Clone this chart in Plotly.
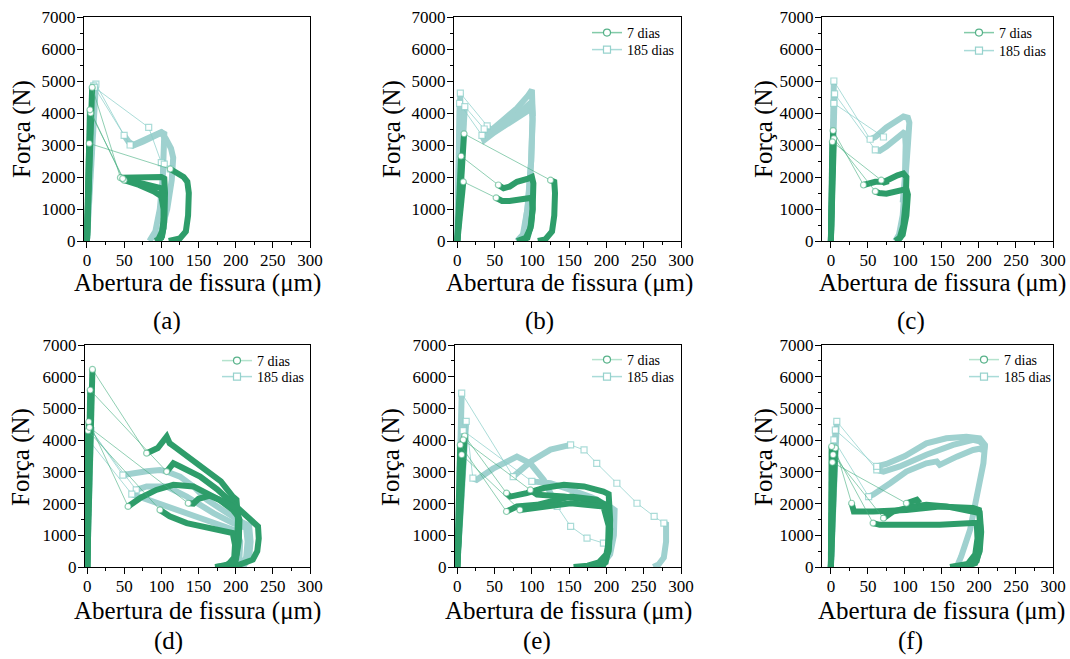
import plotly.graph_objects as go

# ---------------- data (crack opening in µm, force in N) ----------------
# each specimen: index 0 = origin, index 1 = peak, index 2.. = post-peak curve
A7_X = [[0, 7, 45, 60, 80, 100, 104, 105, 104, 101, 95],
        [0, 5, 50, 70, 90, 100, 103, 103, 100, 92],
        [0, 4, 48, 65, 85, 100, 104, 104, 101, 96],
        [0, 3, 112, 120, 130, 135, 137, 136, 133, 125, 110]]
A7_Y = [[0, 4800, 1980, 1990, 1990, 2000, 1950, 1500, 800, 300, 0],
        [0, 4000, 1900, 1750, 1550, 1400, 1000, 400, 100, 0],
        [0, 4100, 1950, 1850, 1700, 1650, 1300, 600, 150, 0],
        [0, 3050, 2250, 2150, 2000, 1850, 1500, 800, 300, 80, 0]]
A185_X = [[0, 12, 50, 56, 62, 75, 90, 100, 104, 104, 102, 98, 92, 84],
          [0, 9, 58, 62, 75, 90, 100, 106, 113, 116, 114, 108, 100, 92]]
A185_Y = [[0, 4900, 3300, 3100, 3000, 3150, 3300, 3400, 3350, 2800, 2000, 1000, 300, 0],
          [0, 4850, 3000, 2980, 3100, 3250, 3380, 3200, 2900, 2600, 1900, 1000, 300, 0]]
A185_THIN_X = [[10, 83, 100, 104, 112]]
A185_THIN_Y = [[4800, 3550, 2450, 2400, 2250]]

B7_X = [[0, 9, 125, 130, 131, 130, 127, 118, 108],
        [0, 5, 55, 62, 70, 80, 95, 100, 102, 101, 98, 92, 80],
        [0, 8, 52, 60, 70, 90, 100, 101, 99, 94, 85]]
B7_Y = [[0, 3350, 1900, 1850, 1500, 800, 300, 50, 0],
        [0, 2650, 1750, 1650, 1700, 1850, 1950, 2000, 1800, 1000, 400, 100, 0],
        [0, 1850, 1350, 1250, 1250, 1300, 1350, 1000, 500, 100, 0]]
B185_X = [[0, 4, 40, 45, 60, 80, 95, 100, 101, 99, 95, 90, 85],
          [0, 3, 33, 36, 50, 70, 90, 100, 101, 99, 94, 88, 80],
          [0, 10, 36, 40, 60, 80, 100, 101]]
B185_Y = [[0, 4620, 3600, 3450, 3750, 4150, 4550, 4720, 4000, 2500, 1200, 300, 0],
          [0, 4300, 3300, 3150, 3400, 3700, 4000, 4150, 3800, 2500, 1000, 200, 0],
          [0, 4200, 3500, 3400, 3650, 3950, 4350, 3900]]

C7_X = [[0, 3, 44, 50, 60, 72, 80, 90, 98, 102, 101, 98, 93, 87],
        [0, 4, 60, 65, 75, 85, 95, 102, 104, 102, 97, 90],
        [0, 2, 68, 72, 78]]
C7_Y = [[0, 3450, 1750, 1800, 1850, 1850, 1950, 2050, 2110, 2000, 1200, 500, 100, 0],
        [0, 3200, 1550, 1500, 1480, 1520, 1580, 1620, 1450, 800, 200, 0],
        [0, 3100, 1900, 1830, 1870]]
C185_X = [[0, 4, 53, 60, 75, 90, 98, 104, 106, 104, 101, 97, 92, 87],
          [0, 5, 60, 66, 75, 90, 100, 101, 100, 97]]
C185_Y = [[0, 5000, 3180, 3250, 3550, 3800, 3890, 3850, 3700, 3000, 1800, 800, 200, 0],
          [0, 4600, 2850, 2820, 2950, 3250, 3420, 3000, 2000, 1200]]
C185_THIN_X = [[4, 71]]
C185_THIN_Y = [[4300, 3250]]

D7_X = [[0, 7, 80, 95, 107, 111, 120, 140, 160, 180, 196, 201, 203, 202, 198, 185, 172],
        [0, 4, 107, 116, 125, 152, 175, 196, 214, 230, 231, 229, 223, 205, 183],
        [0, 2, 55, 71, 93, 116, 143, 161, 178, 196, 203, 204, 201, 192],
        [0, 1, 98, 111, 134, 161, 187, 196, 199, 198, 190, 174],
        [0, 3, 136, 143, 150, 165, 185, 200, 205, 204, 200, 188]]
D7_Y = [[0, 6230, 3590, 3750, 4110, 3900, 3750, 3400, 3050, 2700, 2220, 2120, 1500, 800, 200, 30, 0],
        [0, 5580, 3010, 3270, 3170, 2850, 2450, 2010, 1595, 1280, 900, 500, 230, 73, 0],
        [0, 4580, 1910, 2170, 2430, 2590, 2540, 2330, 2120, 1800, 1600, 1000, 400, 0],
        [0, 4300, 1800, 1600, 1385, 1230, 1120, 1070, 700, 300, 80, 0],
        [0, 4400, 2010, 2000, 2150, 2250, 2050, 1850, 1500, 800, 200, 0]]
D185_X = [[0, 3, 48, 62, 80, 98, 107, 125, 143, 161, 187, 205, 218, 220, 218, 212, 205],
          [0, 5, 66, 80, 107, 134, 170, 196, 214, 216, 214, 207, 196],
          [0, 2, 60, 90, 120, 160, 200, 206, 205, 200]]
D185_Y = [[0, 4400, 2900, 2960, 3020, 3060, 3010, 2850, 2540, 2120, 1700, 1450, 1300, 800, 300, 80, 0],
          [0, 4300, 2430, 2540, 2540, 2220, 1700, 1385, 1230, 800, 300, 60, 0],
          [0, 4000, 2300, 2050, 1800, 1450, 1150, 800, 300, 0]]

E7_X = [[0, 10, 66, 71, 93, 116, 143, 170, 196, 203, 205, 204, 200, 190, 175, 156],
        [0, 8, 98, 107, 143, 174, 201, 204, 203, 199, 187],
        [0, 4, 66, 80, 107, 152, 187, 201, 205, 203, 196, 180],
        [0, 6, 84, 116, 152, 196, 203, 202, 195]]
E7_Y = [[0, 4130, 2330, 2220, 2330, 2490, 2590, 2540, 2380, 2300, 1500, 900, 400, 150, 40, 0],
        [0, 4010, 2430, 2280, 2220, 2120, 1960, 1300, 600, 150, 0],
        [0, 3850, 1750, 1910, 1960, 2220, 2120, 1910, 1200, 500, 100, 0],
        [0, 3540, 1800, 1910, 2010, 1910, 1300, 500, 0]]
E185_X = [[0, 6, 75, 80, 100, 125, 152],
          [0, 12, 21, 26, 48, 80, 98, 116, 134],
          [0, 8, 100, 125, 150, 180, 205, 211, 210, 205, 195, 180]]
E185_Y = [[0, 5480, 2850, 2950, 3350, 3700, 3850],
          [0, 4590, 2800, 2750, 3100, 3480, 3270, 2750, 1910],
          [0, 4300, 2700, 2640, 2450, 2200, 1900, 1800, 1000, 400, 100, 0]]
E185_THIN_X = [[152, 170, 187, 214, 241, 264, 277], [134, 152, 174, 196]]
E185_THIN_Y = [[3850, 3690, 3270, 2640, 2010, 1595, 1385], [1910, 1280, 913, 755]]
E185_EXTRA_X = [[277, 280, 280, 277, 270, 263]]
E185_EXTRA_Y = [[1385, 1350, 800, 300, 80, 0]]

F7_X = [[0, 6, 28, 31, 57, 102, 147, 192, 200, 202, 201, 197, 185, 165],
        [0, 1, 57, 66, 102, 147, 192, 197, 198, 195, 185, 161],
        [0, 3, 71, 84, 111, 129, 156, 192, 201, 203, 201, 195, 180],
        [0, 2, 102, 110, 116, 120]]
F7_Y = [[0, 3750, 2010, 1750, 1750, 1800, 1910, 1860, 1800, 1200, 600, 200, 50, 0],
        [0, 3800, 1385, 1330, 1330, 1330, 1385, 1385, 900, 400, 100, 0],
        [0, 3540, 1540, 1750, 1910, 1960, 1910, 1750, 1700, 1100, 500, 120, 0],
        [0, 3300, 2010, 2060, 2120, 2010]]
F185_X = [[0, 8, 62, 71, 93, 129, 165, 192, 201, 208, 206, 197, 188, 176, 170],
          [0, 6, 62, 75, 100, 129, 156, 183, 201, 208, 207],
          [0, 4, 51, 57, 80, 102, 129, 143, 147, 156, 170, 192, 206, 205]]
F185_Y = [[0, 4590, 3060, 3010, 3170, 3540, 3850, 4010, 3960, 3800, 3270, 2220, 1175, 336, 0],
          [0, 4320, 3170, 3250, 3500, 3900, 4060, 4110, 4060, 3850, 3700],
          [0, 4010, 2220, 2280, 2640, 3010, 3270, 3330, 3220, 3330, 3480, 3690, 3750, 3600]]

PANEL_LABELS = ["(a)", "(b)", "(c)", "(d)", "(e)", "(f)"]
LEGEND_NAMES = ["7 dias", "185 dias"]
X_TITLE = "Abertura de fissura (\u03bcm)"
Y_TITLE = "For\u00e7a (N)"
X_TICKS = [0, 50, 100, 150, 200, 250, 300]
Y_TICKS = [0, 1000, 2000, 3000, 4000, 5000, 6000, 7000]

# ---------------- styling ----------------
GREEN = "#2e9d6a"
TEAL = "#9fd1cf"
GREEN_THIN = "rgba(70,175,128,0.6)"
TEAL_THIN = "rgba(135,205,200,0.7)"
FONT = "Times New Roman, Liberation Serif, DejaVu Serif, serif"

FW, FH = 1070, 659


def PX(px):
    return px / FW


def PY(py):
    return 1 - py / FH


# plot boxes in window pixels: (left, right, top, bottom, xmin)
BOXES = [(84, 310, 17, 241, -4), (454, 681, 17, 241, -4.5), (822, 1053, 17, 241, -12),
         (85, 310, 345, 567, -3), (455, 681, 345, 567, -3), (822, 1053, 345, 567, -12)]
XT_CENTER = [197, 569, 942, 197, 568, 941]
CAP_CENTER = [167, 539, 911, 168, 537, 910]
CAP_Y = [321, 321, 321, 641, 641, 641]
YT_CENTER = [22, 392, 764, 21, 391, 764]
LEG_TEXT_X = [None, 628, 1000, 258, 628, 1005]
LEG_ITEM_Y = [None, (33, 50), (33, 51), (361, 377), (360, 377), (360, 377)]

panels = [
    dict(g=(A7_X, A7_Y, [], [], [], []), t=(A185_X, A185_Y, A185_THIN_X, A185_THIN_Y, [], [])),
    dict(g=(B7_X, B7_Y, [], [], [], []), t=(B185_X, B185_Y, [], [], [], [])),
    dict(g=(C7_X, C7_Y, [], [], [], []), t=(C185_X, C185_Y, C185_THIN_X, C185_THIN_Y, [], [])),
    dict(g=(D7_X, D7_Y, [], [], [], []), t=(D185_X, D185_Y, [], [], [], [])),
    dict(g=(E7_X, E7_Y, [], [], [], []), t=(E185_X, E185_Y, E185_THIN_X, E185_THIN_Y, E185_EXTRA_X, E185_EXTRA_Y)),
    dict(g=(F7_X, F7_Y, [], [], [], []), t=(F185_X, F185_Y, [], [], [], [])),
]

fig = go.Figure()


def add_group(i, data, color, thin_color, symbol):
    xs, ys, tx, ty, ex, ey = data
    kx, ky, cx, cy = [], [], [], []
    for X, Y in zip(xs, ys):
        kx += X[0:2] + [None] + X[2:] + [None]
        ky += Y[0:2] + [None] + Y[2:] + [None]
        cx += X[1:3] + [None]
        cy += Y[1:3] + [None]
    for X, Y in zip(ex, ey):
        kx += X + [None]
        ky += Y + [None]
    for X, Y in zip(tx, ty):
        cx += X + [None]
        cy += Y + [None]
    xa = "x" if i == 0 else f"x{i+1}"
    ya = "y" if i == 0 else f"y{i+1}"
    fig.add_trace(go.Scatter(x=kx, y=ky, mode="lines", xaxis=xa, yaxis=ya,
                             line=dict(color=color, width=6), showlegend=False,
                             hoverinfo="skip"))
    fig.add_trace(go.Scatter(x=cx, y=cy, mode="lines+markers", xaxis=xa, yaxis=ya,
                             line=dict(color=thin_color, width=1),
                             marker=dict(symbol=symbol, size=6, color="white",
                                         line=dict(color=thin_color, width=1.2)),
                             showlegend=False, hoverinfo="skip"))


layout = dict(width=FW, height=FH, margin=dict(l=0, r=0, t=0, b=0, autoexpand=False),
              paper_bgcolor="white", plot_bgcolor="white", showlegend=True,
              font=dict(family=FONT, color="black"), annotations=[])

leg_idx = 2
for i, p in enumerate(panels):
    add_group(i, p["t"], TEAL, TEAL_THIN, "square")
    add_group(i, p["g"], GREEN, GREEN_THIN, "circle")
    left, right, top, bottom, xmin = BOXES[i]
    sfx = "" if i == 0 else str(i + 1)
    axis_common = dict(showline=True, linecolor="black", linewidth=1.3, mirror=True,
                       ticks="outside", ticklen=6, tickwidth=1.2, tickcolor="black",
                       showgrid=False, zeroline=False, automargin=False,
                       ticklabeloverflow="allow",
                       tickfont=dict(family=FONT, size=17, color="black"))
    layout["xaxis" + sfx] = dict(axis_common, domain=[PX(left), PX(right)],
                                 anchor="y" + sfx, range=[xmin, 300],
                                 tickvals=X_TICKS, ticklabelstandoff=-3,
                                 minor=dict(ticks="outside", ticklen=3, tickwidth=1,
                                            dtick=25, tick0=0, tickcolor="black"))
    layout["yaxis" + sfx] = dict(axis_common, domain=[PY(bottom), PY(top)],
                                 anchor="x" + sfx, range=[0, 7000],
                                 tickvals=Y_TICKS, ticklabelstandoff=-2,
                                 minor=dict(ticks="outside", ticklen=3, tickwidth=1,
                                            dtick=500, tick0=0, tickcolor="black"))
    row_off = 0 if i < 3 else 328
    layout["annotations"].append(dict(text=X_TITLE, xref="paper", yref="paper",
                                      x=PX(XT_CENTER[i]), y=PY(283 + row_off), showarrow=False,
                                      font=dict(family=FONT, size=25, color="black"),
                                      xanchor="center", yanchor="middle"))
    layout["annotations"].append(dict(text=PANEL_LABELS[i], xref="paper", yref="paper",
                                      x=PX(CAP_CENTER[i]), y=PY(CAP_Y[i]), showarrow=False,
                                      font=dict(family=FONT, size=25, color="black"),
                                      xanchor="center", yanchor="middle"))
    layout["annotations"].append(dict(text=Y_TITLE, xref="paper", yref="paper",
                                      x=PX(YT_CENTER[i]), y=PY(129 + row_off),
                                      textangle=-90, showarrow=False,
                                      font=dict(family=FONT, size=25, color="black"),
                                      xanchor="center", yanchor="middle"))
    if i > 0:
        styles = [
            dict(line=dict(color="rgba(90,185,140,0.75)" if i < 3 else "rgba(150,215,185,0.7)", width=1.5),
                 marker=dict(symbol="circle", size=7, color="white",
                             line=dict(color="rgba(70,170,125,0.9)", width=1.2))),
            dict(line=dict(color="rgba(160,215,212,0.9)", width=1.5),
                 marker=dict(symbol="square", size=7, color="white",
                             line=dict(color="rgba(140,205,200,0.9)", width=1.2))),
        ]
        for k in range(2):
            lname = f"legend{leg_idx}"
            leg_idx += 1
            fig.add_trace(go.Scatter(x=[None], y=[None], mode="lines+markers",
                                     xaxis="x" + sfx, yaxis="y" + sfx, name=LEGEND_NAMES[k],
                                     legend=lname, showlegend=True, **styles[k]))
            layout[lname] = dict(x=PX(LEG_TEXT_X[i] - 41), y=PY(LEG_ITEM_Y[i][k] - 16),
                                 xanchor="left", yanchor="top", bgcolor="rgba(0,0,0,0)",
                                 font=dict(family=FONT, size=14, color="black"),
                                 itemwidth=30, tracegroupgap=0)

fig.update_layout(**layout)
fig.write_html("out.html", config={"displayModeBar": False},
               post_script="document.body.style.margin='0px';")
